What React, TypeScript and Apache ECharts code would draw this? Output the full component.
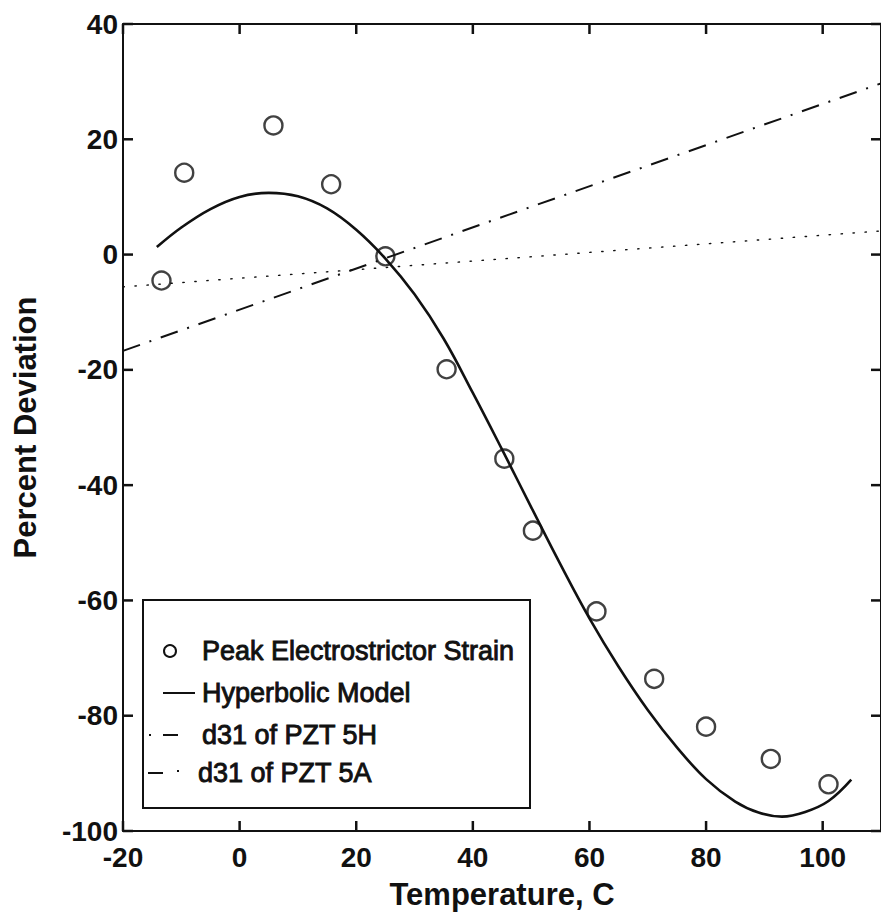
import React, { useEffect, useRef } from "react";
import * as echarts from "echarts";

// Peak electrostrictor strain measurements (temperature °C, percent deviation)
const strainPoints: [number, number][] = [
  [-13.4, -4.5], [-9.5, 14.2], [5.8, 22.4], [15.7, 12.2], [25.0, -0.3],
  [35.5, -19.9], [45.4, -35.4], [50.3, -47.9], [61.2, -61.9], [71.1, -73.6],
  [80.0, -81.9], [91.1, -87.5], [101.0, -91.9],
];

// Hyperbolic model curve samples
const hyperbolicModel: [number, number][] = [
  [-14.2, 1.3], [-10, 4.7], [-5, 7.9], [0, 10.0], [5, 10.7],
  [10, 10.1], [15, 8.0], [20, 4.3], [25, -0.7], [30, -6.9],
  [35, -14.6], [40, -24.0], [45, -33.8], [50, -43.8], [55, -53.7],
  [60, -63.1], [65, -71.5], [70, -79.0], [75, -85.5], [80, -91.0],
  [85, -94.9], [89, -96.8], [93, -97.5], [97, -96.7], [101, -94.8],
  [104.9, -91.1],
];

// Linear d31 temperature dependence of the two PZT grades
const d31PZT5H: [number, number][] = [[-20, -5.6], [110, 4.1]];
const d31PZT5A: [number, number][] = [[-20, -16.7], [110, 29.7]];

const X_MIN = -20;
const X_MAX = 110;
const X_STEP = 20;
const Y_MIN = -100;
const Y_MAX = 40;
const Y_STEP = 20;

const xTickValues = [-20, 0, 20, 40, 60, 80, 100];
const yTickValues = [-100, -80, -60, -40, -20, 0, 20, 40];

const legendLabels = [
  "Peak Electrostrictor Strain",
  "Hyperbolic Model",
  "d31 of PZT 5H",
  "d31 of PZT 5A",
];

const FONT = '"Liberation Sans", Arial, Helvetica, sans-serif';
const INK = "#111";
const TICK_LEN = 10;

const frameLine = () => ({ show: true, onZero: false, lineStyle: { color: INK, width: 2 } });
const noTicks = () => ({ show: false });

export default function App() {
  const ref = useRef<HTMLDivElement>(null);

  useEffect(() => {
    if (!ref.current) return;
    const chart = echarts.init(ref.current, null, { renderer: "svg" });

    const tickLabel = { color: INK, fontFamily: FONT, fontSize: 28, fontWeight: "bold" as const };

    const rowY = [651, 693, 735, 773];
    const textX = 202;

    const tickStyle = { stroke: INK, lineWidth: 2.5, fill: null };

    chart.setOption({
      animation: false,
      backgroundColor: "#fff",
      grid: { left: 123, top: 24, width: 765, height: 807, containLabel: false },
      xAxis: [
        {
          type: "value",
          min: X_MIN,
          max: X_MAX,
          interval: X_STEP,
          position: "bottom",
          name: "Temperature, C",
          nameLocation: "middle",
          nameGap: 48,
          nameTextStyle: { color: INK, fontFamily: FONT, fontSize: 31, fontWeight: "bold" },
          axisLine: frameLine(),
          axisTick: noTicks(),
          axisLabel: { ...tickLabel, margin: 12, showMaxLabel: false },
          splitLine: { show: false },
        },
        {
          type: "value",
          min: X_MIN,
          max: X_MAX,
          interval: X_STEP,
          position: "top",
          axisLine: frameLine(),
          axisTick: noTicks(),
          axisLabel: { show: false },
          splitLine: { show: false },
        },
      ],
      yAxis: [
        {
          type: "value",
          min: Y_MIN,
          max: Y_MAX,
          interval: Y_STEP,
          position: "left",
          name: "Percent Deviation",
          nameLocation: "middle",
          nameGap: 82,
          nameTextStyle: { color: INK, fontFamily: FONT, fontSize: 31, fontWeight: "bold" },
          axisLine: frameLine(),
          axisTick: noTicks(),
          axisLabel: { ...tickLabel, margin: 5 },
          splitLine: { show: false },
        },
        {
          type: "value",
          min: Y_MIN,
          max: Y_MAX,
          interval: Y_STEP,
          position: "right",
          axisLine: frameLine(),
          axisTick: noTicks(),
          axisLabel: { show: false },
          splitLine: { show: false },
        },
      ],
      series: [
        {
          // inward ticks on the bottom and top frame edges
          type: "custom",
          silent: true,
          clip: false,
          z: 10,
          data: xTickValues.map((v) => [v, Y_MIN]),
          encode: { x: 0, y: 1 },
          renderItem: (_params: any, api: any) => {
            const bottom = api.coord([api.value(0), Y_MIN]);
            const top = api.coord([api.value(0), Y_MAX]);
            return {
              type: "group",
              children: [
                { type: "line", shape: { x1: bottom[0], y1: bottom[1], x2: bottom[0], y2: bottom[1] - TICK_LEN }, style: tickStyle },
                { type: "line", shape: { x1: top[0], y1: top[1], x2: top[0], y2: top[1] + TICK_LEN }, style: tickStyle },
              ],
            };
          },
        },
        {
          // inward ticks on the left and right frame edges
          type: "custom",
          silent: true,
          clip: false,
          z: 10,
          data: yTickValues.map((v) => [X_MIN, v]),
          encode: { x: 0, y: 1 },
          renderItem: (_params: any, api: any) => {
            const left = api.coord([X_MIN, api.value(1)]);
            const right = api.coord([X_MAX, api.value(1)]);
            return {
              type: "group",
              children: [
                { type: "line", shape: { x1: left[0], y1: left[1], x2: left[0] + TICK_LEN, y2: left[1] }, style: tickStyle },
                { type: "line", shape: { x1: right[0], y1: right[1], x2: right[0] - TICK_LEN, y2: right[1] }, style: tickStyle },
              ],
            };
          },
        },
        {
          name: legendLabels[2],
          type: "line",
          data: d31PZT5H,
          showSymbol: false,
          lineStyle: { color: INK, width: 1.4, type: [1.4, 10.6], cap: "round" },
          z: 2,
        },
        {
          name: legendLabels[3],
          type: "line",
          data: d31PZT5A,
          showSymbol: false,
          lineStyle: { color: INK, width: 2, type: [18, 10, 2, 10] },
          z: 2,
        },
        {
          name: legendLabels[1],
          type: "line",
          data: hyperbolicModel,
          showSymbol: false,
          smooth: 0.4,
          lineStyle: { color: INK, width: 2.6 },
          z: 3,
        },
        {
          name: legendLabels[0],
          type: "scatter",
          data: strainPoints,
          symbol: "circle",
          symbolSize: 18,
          itemStyle: { color: "transparent", borderColor: INK, borderWidth: 2.4 },
          z: 4,
        },
      ],
      graphic: [
        {
          type: "group",
          z: 100,
          children: [
            {
              type: "rect",
              shape: { x: 143, y: 600, width: 387, height: 208 },
              style: { fill: "#fff", stroke: INK, lineWidth: 2 },
            },
            {
              type: "circle",
              shape: { cx: 170, cy: rowY[0], r: 6 },
              style: { fill: "none", stroke: INK, lineWidth: 2 },
            },
            {
              type: "line",
              shape: { x1: 163, y1: rowY[1], x2: 195, y2: rowY[1] },
              style: { stroke: INK, lineWidth: 2 },
            },
            {
              type: "line",
              shape: { x1: 149, y1: rowY[2], x2: 151, y2: rowY[2] },
              style: { stroke: INK, lineWidth: 2 },
            },
            {
              type: "line",
              shape: { x1: 163, y1: rowY[2], x2: 178, y2: rowY[2] },
              style: { stroke: INK, lineWidth: 2 },
            },
            {
              type: "line",
              shape: { x1: 148, y1: rowY[3], x2: 163, y2: rowY[3] },
              style: { stroke: INK, lineWidth: 2 },
            },
            {
              type: "line",
              shape: { x1: 177, y1: rowY[3] - 2, x2: 179, y2: rowY[3] - 2 },
              style: { stroke: INK, lineWidth: 2 },
            },
            ...legendLabels.map((label, i) => ({
              type: "text",
              x: i === 3 ? textX - 4 : textX,
              y: rowY[i],
              style: {
                text: label,
                fill: INK,
                font: `27px ${FONT}`,
                stroke: INK,
                lineWidth: 0.9,
                verticalAlign: "middle",
                align: "left",
              },
            })),
          ],
        },
      ],
    });

    return () => chart.dispose();
  }, []);

  return (
    <div
      ref={ref}
      style={{ position: "fixed", left: 0, top: 0, width: 881, height: 915, background: "#fff" }}
    />
  );
}
